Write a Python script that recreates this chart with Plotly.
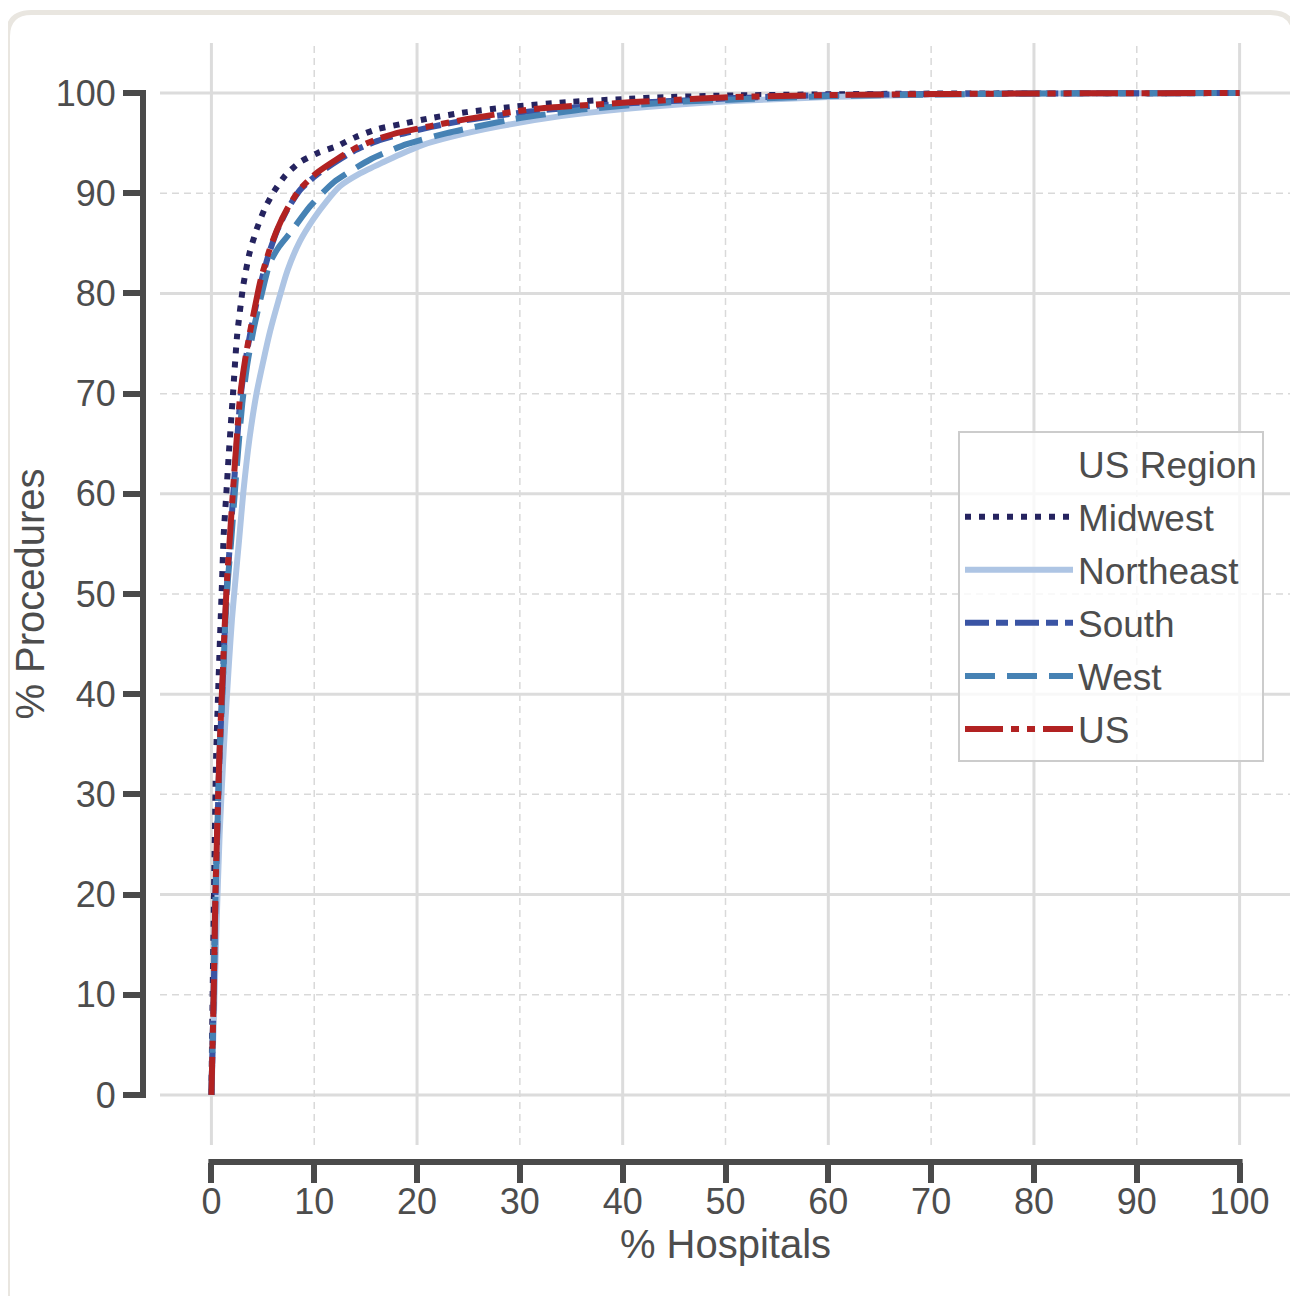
import plotly.graph_objects as go

# ---------------- data ----------------
TICKS = [0, 10, 20, 30, 40, 50, 60, 70, 80, 90, 100]
TICK_LABELS = ["0", "10", "20", "30", "40", "50", "60", "70", "80", "90", "100"]

midwest_x = [0, 0.12, 0.25, 0.46, 0.65, 0.85, 1.04, 1.2, 1.45, 1.68, 2.1, 2.5, 3.1, 3.7, 4.4, 5.2,
             6.1, 7.2, 8.6, 10.3, 12.2, 14.0, 16.1, 18.4, 21.3, 24.8, 29.0, 34.6, 40.0, 44.3, 50,
             60, 70, 80, 90, 100]
midwest_y = [0, 10, 20, 33.8, 40, 46, 51.4, 56, 60, 63.8, 70, 75.8, 80.8, 84.0, 86.4, 88.5,
             90.2, 91.8, 93.1, 94.0, 94.7, 95.6, 96.4, 96.9, 97.5, 98.1, 98.6, 99.1, 99.4, 99.6, 99.75,
             99.88, 99.95, 99.98, 99.99, 100]

northeast_x = [0, 0.25, 0.5, 0.8, 1.2, 1.7, 2.0, 2.3, 2.7, 3.1, 3.7, 4.4, 5.1, 5.7, 6.5, 7.4,
               8.6, 9.9, 11.2, 12.5, 14.5, 16.7, 18.4, 20.5, 23.2, 28.1, 34.0, 40.1, 50.8, 60,
               70, 80, 90, 100]
northeast_y = [0, 8, 17, 26, 34.5, 43, 47.5, 51, 55.5, 60.1, 65.5, 70.1, 73.5, 76.2, 79.2, 82.3,
               85.2, 87.4, 89.2, 90.7, 92.0, 93.1, 93.9, 94.8, 95.6, 96.7, 97.7, 98.4, 99.2, 99.6,
               99.85, 99.95, 99.99, 100]

south_x = [0, 0.22, 0.4, 0.62, 0.8, 0.98, 1.13, 1.33, 1.55, 1.8, 2.25, 2.85, 3.35, 3.85, 4.85,
           5.6, 6.4, 7.4, 8.6, 10.2, 12.2, 14.0, 16.1, 18.4, 21.3, 24.8, 31.3, 41.0, 50.8, 60,
           70, 80, 90, 100]
south_y = [0, 10, 20, 28, 34, 38.5, 42, 47, 51.4, 55, 61.8, 69.8, 73.5, 76.4, 81.2,
           84.0, 86.3, 88.4, 90.3, 91.8, 93.2, 94.3, 95.2, 95.9, 96.6, 97.3, 98.2, 99.0, 99.5, 99.8,
           99.9, 99.96, 99.99, 100]

west_x = [0, 0.22, 0.4, 0.62, 0.8, 1.0, 1.15, 1.35, 1.6, 1.9, 2.4, 3.0, 3.5, 4.1, 4.9, 5.7,
          6.6, 7.7, 9.6, 11.9, 15.5, 19.0, 22.9, 29.4, 36.5, 44.9, 52, 60, 70, 80, 90, 100]
west_y = [0, 10, 20, 28, 34, 38.5, 42, 47, 51.4, 55, 61.8, 69, 73, 76.4, 80.0, 83.1,
          84.7, 86.1, 88.7, 91.1, 93.4, 94.9, 96.0, 97.4, 98.4, 99.1, 99.4, 99.7, 99.85, 99.95,
          99.99, 100]

us_x = [0, 0.22, 0.39, 0.6, 0.78, 0.95, 1.1, 1.3, 1.52, 1.75, 2.2, 2.8, 3.3, 3.8, 4.8, 5.6,
        6.4, 7.4, 8.6, 10.2, 12.2, 14.0, 16.1, 18.4, 21.3, 24.8, 31.3, 41.0, 50.8, 60, 70, 80,
        90, 100]
us_y = [0, 10, 20, 28, 34, 38.5, 42, 47, 51.4, 55, 61.8, 69.8, 73.5, 76.4, 81.4, 84.2,
        86.4, 88.5, 90.4, 92.0, 93.4, 94.5, 95.4, 96.1, 96.7, 97.4, 98.4, 99.1, 99.6, 99.8, 99.9,
        99.96, 99.99, 100]

SERIES = [
    ("Midwest", midwest_x, midwest_y, "#25235f", "6px,8px"),
    ("Northeast", northeast_x, northeast_y, "#aec5e4", "solid"),
    ("South", south_x, south_y, "#3a54a4", "24px,7px,12px,7px"),
    ("West", west_x, west_y, "#4682b4", "30px,12px"),
    ("US", us_x, us_y, "#b22222", "38px,8px,8px,8px,8px,8px"),
]

# ---------------- layout geometry ----------------
# the page shows the figure 8 px in from the top-left corner, so every
# target position (measured on the reference) is shifted back by OFF
OFF = 8
W, H = 1298, 1296
PLOT_L, PLOT_R, PLOT_T, PLOT_B = 160 - OFF, 1291 - OFF, 43 - OFF, 1145 - OFF
YSPINE, XSPINE, TICKLEN = 143 - OFF, 1162 - OFF, 20
ML, MT = YSPINE - TICKLEN, PLOT_T
MR = W - PLOT_R
MB = H - (XSPINE + TICKLEN)
PW, PH = W - ML - MR, H - MT - MB
X_DOM0 = (PLOT_L - ML) / PW
Y_DOM0 = ((H - MB) - PLOT_B) / PH
Y_AX_POS = (YSPINE - ML) / PW
X_AX_POS = ((H - MB) - XSPINE) / PH
RANGE = [-5, 105]
XPX = PW * (1 - X_DOM0) / (RANGE[1] - RANGE[0])
YPX = PH * (1 - Y_DOM0) / (RANGE[1] - RANGE[0])

TXT = "#4d4d4d"
SPINE = "#4a4a4a"
FONT = "Liberation Sans, Arial, sans-serif"


def px(xp):
    return (xp - OFF - ML) / PW


def py(yp):
    return ((H - MB) - (yp - OFF)) / PH


fig = go.Figure()

# legend title as a blank entry so that it lines up with the labels
fig.add_trace(go.Scatter(x=[None], y=[None], mode="lines", name="US Region",
                         line=dict(width=0, color="rgba(0,0,0,0)"),
                         legendgroup="title", hoverinfo="skip"))

for name, xs, ys, color, dash in SERIES:
    fig.add_trace(go.Scatter(x=xs, y=ys, mode="lines", name=name, legendgroup=name,
                             line=dict(color=color, width=6, dash=dash,
                                       shape="spline", smoothing=0.6)))

shapes = []
# gridlines: solid at multiples of 20, dashed in between
for v in TICKS:
    major = v % 20 == 0
    style = dict(color="#dcdcdc", width=3) if major else dict(color="#d9d9d9", width=1.5, dash="7px,5px")
    shapes.append(dict(type="line", xref="x", yref="y domain", x0=v, x1=v, y0=0, y1=1,
                       line=style, layer="below"))
    shapes.append(dict(type="line", xref="x domain", yref="y", x0=0, x1=1, y0=v, y1=v,
                       line=style, layer="below"))

# trimmed spines
shapes.append(dict(type="line", xref="paper", yref="y", x0=Y_AX_POS, x1=Y_AX_POS,
                   y0=TICKS[0] - 3 / YPX, y1=TICKS[-1] + 3 / YPX,
                   line=dict(color=SPINE, width=6), layer="above"))
shapes.append(dict(type="line", xref="x", yref="paper", y0=X_AX_POS, y1=X_AX_POS,
                   x0=TICKS[0] - 3 / XPX, x1=TICKS[-1] + 3 / XPX,
                   line=dict(color=SPINE, width=6), layer="above"))

# outer rounded frame (reference pixel coordinates)
L, R, T, B, r = 7.5, 1294.5, 12.5, 1330, 24
path = (f"M{px(L + r)},{py(T)} L{px(R - r)},{py(T)} Q{px(R)},{py(T)} {px(R)},{py(T + r)} "
        f"L{px(R)},{py(B)} L{px(L)},{py(B)} L{px(L)},{py(T + r)} Q{px(L)},{py(T)} {px(L + r)},{py(T)} Z")
shapes.append(dict(type="path", xref="paper", yref="paper", path=path,
                   line=dict(color="#e9e6e0", width=5), fillcolor="rgba(0,0,0,0)", layer="below"))

axis_common = dict(
    range=RANGE, tickmode="array", tickvals=TICKS, ticktext=TICK_LABELS,
    showgrid=False, zeroline=False, showline=False,
    ticks="outside", ticklen=TICKLEN, tickwidth=6, tickcolor=SPINE,
    tickfont=dict(family=FONT, size=36, color=TXT),
    anchor="free",
)

fig.update_layout(
    width=W, height=H,
    margin=dict(l=ML, r=MR, t=MT, b=MB, pad=0),
    paper_bgcolor="white", plot_bgcolor="white",
    font=dict(family=FONT, color=TXT),
    showlegend=True,
    xaxis=dict(axis_common, domain=[X_DOM0, 1], position=X_AX_POS, ticklabelstandoff=-12,
               title=dict(text="% Hospitals", font=dict(family=FONT, size=40, color=TXT), standoff=6)),
    yaxis=dict(axis_common, domain=[Y_DOM0, 1], position=Y_AX_POS,
               title=dict(text="% Procedures", font=dict(family=FONT, size=40, color=TXT), standoff=2)),
    legend=dict(
        x=px(958), y=py(431), xanchor="left", yanchor="top",
        bgcolor="rgba(255,255,255,0.8)", bordercolor="#cccccc", borderwidth=2,
        font=dict(family=FONT, size=37, color=TXT),
        itemwidth=108, tracegroupgap=2,
    ),
    shapes=shapes,
)

fig.write_html("out.html")
